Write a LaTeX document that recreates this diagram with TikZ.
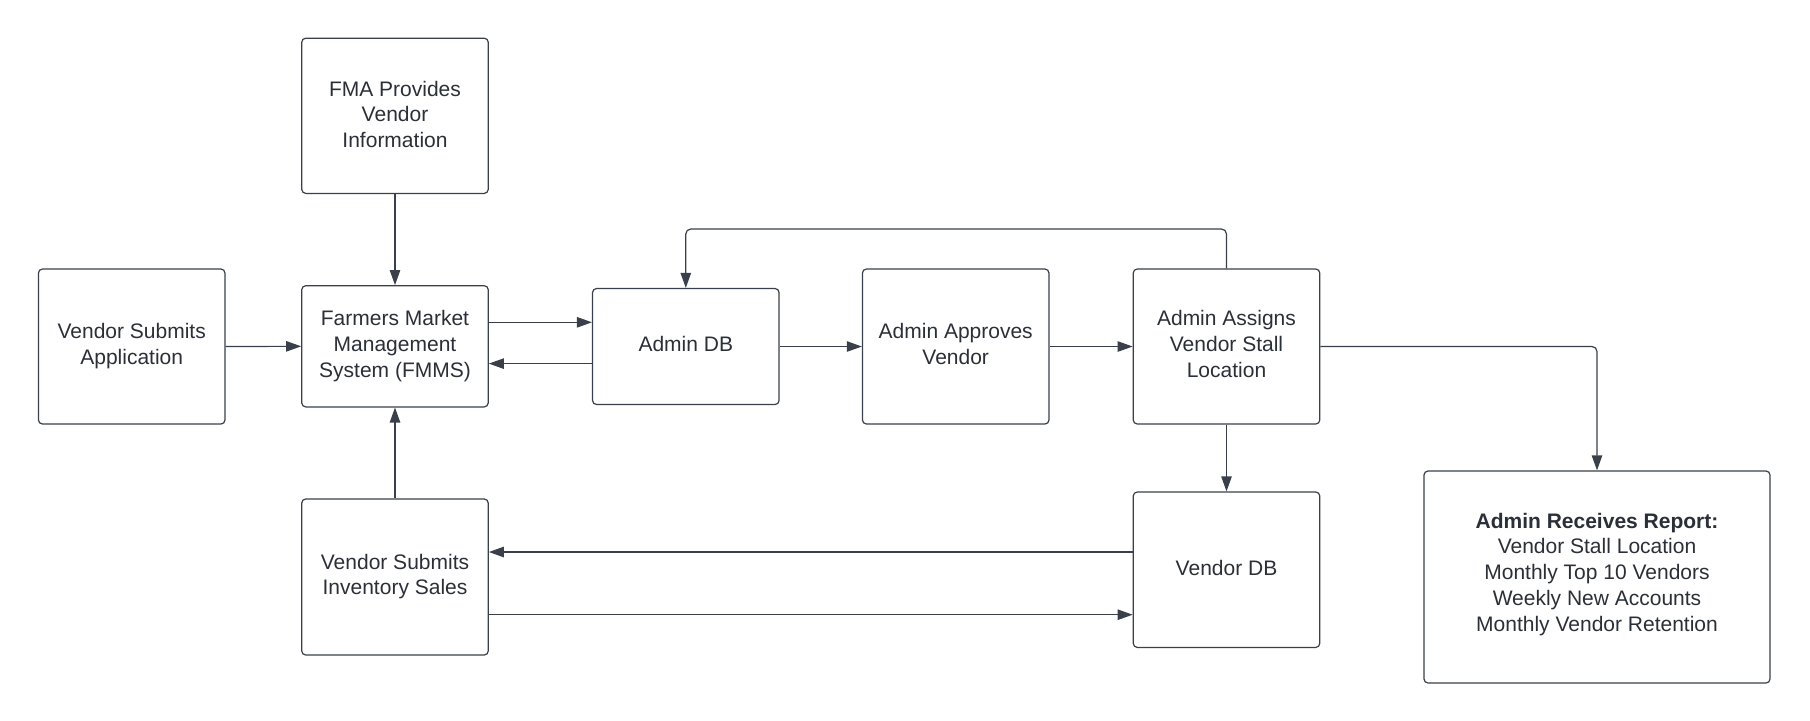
\documentclass[tikz,border=0pt]{standalone}
\usepackage{fontspec}
\setmainfont{Liberation Sans}
\usetikzlibrary{arrows.meta}
\definecolor{ln}{RGB}{58,64,74}
\definecolor{tx}{RGB}{43,48,56}
\begin{document}
\begin{tikzpicture}[x=0.5pt,y=-0.5pt,
  boxdepth/.store in=\boxdep, boxdepth=2.7pt,
  box/.style={draw=ln, line width=0.6pt, rounded corners=2pt, inner sep=0pt,
    align=center, text=tx, font=\fontsize{10.5}{12.9}\selectfont,
    execute at begin node={\rule{0pt}{8pt}},
    execute at end node={\rule[-\boxdep]{0pt}{\boxdep}},
    minimum width=93.25pt},
  arr/.style={draw=ln, line width=0.6pt, -{Triangle[length=7.5pt,width=5.2pt]}}]
\fill[white] (0,0) rectangle (1810,720);
\useasboundingbox (0,0) rectangle (1810,720);

\node[box, minimum height=77.5pt] (vsa) at (131.7,346.5) {Vendor Submits\\Application};
\node[box, boxdepth=1.5pt, minimum height=77.6pt] (fma) at (395,115.8) {FMA Provides\\Vendor\\Information};
\node[box, minimum height=60.6pt] (fmms) at (395,346.3) {Farmers Market\\Management\\System (FMMS)};
\node[box, minimum height=58pt] (adb) at (685.8,346.5) {Admin DB};
\node[box, minimum height=77.5pt] (app) at (955.7,346.5) {Admin Approves\\Vendor};
\node[box, minimum height=77.5pt] (asg) at (1226.5,346.5) {Admin Assigns\\Vendor Stall\\Location};
\node[box, minimum height=77.7pt] (vdb) at (1226.5,569.7) {Vendor DB};
\node[box, minimum height=78pt] (vsi) at (395,577) {Vendor Submits\\Inventory Sales};
\node[box, boxdepth=5pt, minimum width=173pt, minimum height=106pt] (rep) at (1597,577)
  {\textbf{Admin Receives Report:}\\Vendor Stall Location\\Monthly Top 10 Vendors\\Weekly New Accounts\\Monthly Vendor Retention};

\coordinate (top) at (0,229);

\draw[arr] (vsa.east) -- (fmms.west);
\draw[arr] (fma.south) -- (fmms.north);
\draw[arr] ([yshift=12pt]fmms.east) -- ([yshift=12pt]fmms.east -| adb.west);
\draw[arr] ([yshift=-8.55pt]adb.west) -- ([yshift=-8.55pt]adb.west -| fmms.east);
\draw[arr] (adb.east) -- (app.west);
\draw[arr] (app.east) -- (asg.west);
\draw[arr, rounded corners=2.5pt] (asg.north) -- (asg.north |- top) -- (adb.north |- top) -- (adb.north);
\draw[arr, rounded corners=2.5pt] (asg.east) -- (rep.north |- asg.east) -- (rep.north);
\draw[arr] (asg.south) -- (vdb.north);
\draw[arr] ([yshift=8.85pt]vdb.west) -- ([yshift=8.85pt]vdb.west -| vsi.east);
\draw[arr] ([yshift=-22.5pt]vdb.west -| vsi.east) -- ([yshift=-22.5pt]vdb.west);
\draw[arr] (vsi.north) -- (fmms.south);
\end{tikzpicture}
\end{document}
